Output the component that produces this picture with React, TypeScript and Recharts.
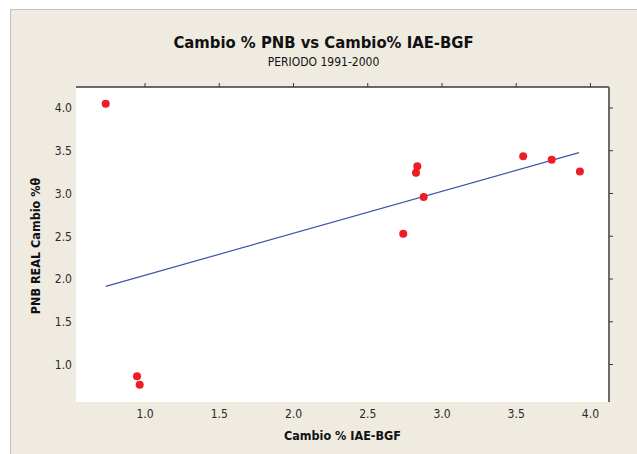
import React from "react";
import {
  ScatterChart,
  Scatter,
  XAxis,
  YAxis,
  CartesianGrid,
} from "recharts";

const iaeChange: number[] = [0.735, 0.946, 0.964, 2.739, 2.825, 2.834, 2.877, 3.547, 3.739, 3.929];
const pnbChange: number[] = [4.05, 0.864, 0.763, 2.529, 3.241, 3.319, 2.958, 3.436, 3.393, 3.256];

// Fitted regression line end points
const fitX: number[] = [0.735, 3.923];
const fitY: number[] = [1.914, 3.478];

const xTicks: number[] = [1.0, 1.5, 2.0, 2.5, 3.0, 3.5, 4.0];
const yTicks: number[] = [1.0, 1.5, 2.0, 2.5, 3.0, 3.5, 4.0];

const xDomain: [number, number] = [0.535, 4.125];
const yDomain: [number, number] = [0.562, 4.245];

const title = "Cambio % PNB vs Cambio% IAE-BGF";
const subtitle = "PERIODO 1991-2000";
const xLabel = "Cambio % IAE-BGF";
const yLabel = "PNB REAL Cambio %θ";

const points = iaeChange.map((x, i) => ({ x, y: pnbChange[i] }));
const fitLine = fitX.map((x, i) => ({ x, y: fitY[i] }));

const FONT = "'DejaVu Sans Condensed', 'DejaVu Sans', sans-serif";
const BG = "#EFEBE1";

const fmt = (v: number) => v.toFixed(1);
const NoLabel = () => <g />;

export default function App() {
  return (
    <div
      style={{
        position: "absolute",
        left: 0,
        top: 0,
        width: 637,
        height: 454,
        background: "#ffffff",
        overflow: "hidden",
        fontFamily: FONT,
      }}
    >
      <div
        style={{
          position: "absolute",
          left: 10,
          top: 9,
          width: 627,
          height: 445,
          background: BG,
          borderLeft: "1px solid #c4c2bc",
          borderTop: "1px solid #c4c2bc",
          boxSizing: "border-box",
        }}
      />
      <div style={{ position: "absolute", left: 0, top: 0 }}>
        <ScatterChart
          width={637}
          height={454}
          margin={{ top: 86, right: 0, bottom: 0, left: 0 }}
        >
          <CartesianGrid fill="#ffffff" horizontal={false} vertical={false} stroke="none" />
          <XAxis
            xAxisId="b"
            dataKey="x"
            type="number"
            domain={xDomain}
            ticks={xTicks}
            tickFormatter={fmt}
            allowDataOverflow
            axisLine={false}
            tickLine={false}
            tickSize={0}
            tickMargin={7}
            height={52}
            tick={{ fill: "#2a2a2a", fontSize: 12, fontFamily: FONT }}
          />
          <XAxis
            xAxisId="t"
            orientation="top"
            dataKey="x"
            type="number"
            domain={xDomain}
            ticks={xTicks}
            allowDataOverflow
            height={1}
            axisLine={{ stroke: "#3a3a3a", strokeWidth: 1.5 }}
            tickLine={{ stroke: "#3a3a3a" }}
            tickSize={4}
            tick={NoLabel}
          />
          <YAxis
            yAxisId="l"
            dataKey="y"
            type="number"
            domain={yDomain}
            ticks={yTicks}
            tickFormatter={fmt}
            allowDataOverflow
            axisLine={false}
            tickLine={false}
            tickSize={0}
            tickMargin={4}
            width={76}
            tick={{ fill: "#2a2a2a", fontSize: 12, fontFamily: FONT }}
          />
          <YAxis
            yAxisId="r"
            orientation="right"
            dataKey="y"
            type="number"
            domain={yDomain}
            ticks={yTicks}
            allowDataOverflow
            width={28}
            axisLine={{ stroke: "#6a6a6a", strokeWidth: 2 }}
            tickLine={{ stroke: "#3a3a3a" }}
            tickSize={4}
            tick={NoLabel}
          />
          <Scatter
            xAxisId="b"
            yAxisId="l"
            data={fitLine}
            line={{ stroke: "#3c55a5", strokeWidth: 1.2 }}
            shape={() => <g />}
            isAnimationActive={false}
          />
          <Scatter
            xAxisId="b"
            yAxisId="l"
            data={points}
            fill="#ee1c24"
            shape={(props: any) => (
              <circle cx={props.cx} cy={props.cy} r={4} fill="#ee1c24" />
            )}
            isAnimationActive={false}
          />
        </ScatterChart>
      </div>
      <div
        style={{
          position: "absolute",
          left: 10,
          width: 627,
          top: 33,
          textAlign: "center",
          fontSize: 16.5,
          fontWeight: "bold",
          color: "#111",
          lineHeight: "20px",
        }}
      >
        {title}
      </div>
      <div
        style={{
          position: "absolute",
          left: 10,
          width: 627,
          top: 54,
          textAlign: "center",
          fontSize: 12,
          color: "#111",
          lineHeight: "16px",
        }}
      >
        {subtitle}
      </div>
      <div
        style={{
          position: "absolute",
          left: 76,
          width: 533,
          top: 428,
          textAlign: "center",
          fontSize: 12.5,
          fontWeight: "bold",
          color: "#111",
          lineHeight: "16px",
        }}
      >
        {xLabel}
      </div>
      <div
        style={{
          position: "absolute",
          left: 36,
          top: 246,
          width: 0,
          height: 0,
        }}
      >
        <div
          style={{
            position: "absolute",
            left: 0,
            top: 0,
            transform: "translate(-50%, -50%) rotate(-90deg)",
            whiteSpace: "nowrap",
            fontSize: 12.5,
            fontWeight: "bold",
            color: "#111",
            lineHeight: "16px",
          }}
        >
          {yLabel}
        </div>
      </div>
    </div>
  );
}
